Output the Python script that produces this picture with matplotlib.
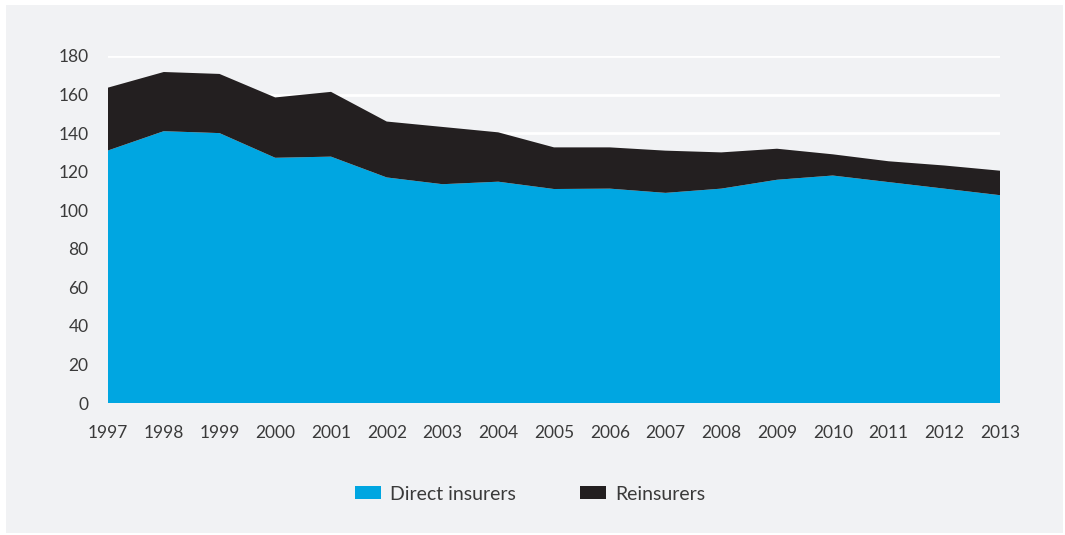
import matplotlib.pyplot as plt
from matplotlib.patches import Rectangle

years = list(range(1997, 2014))
direct = [131.0, 141.0, 140.0, 127.2, 127.8, 117.0, 113.5, 114.8, 111.0, 111.2,
          109.0, 111.2, 115.8, 118.0, 114.6, 111.2, 107.8]
total = [163.6, 171.7, 170.7, 158.5, 161.4, 146.0, 143.2, 140.4, 132.6, 132.6,
         130.9, 130.0, 131.9, 129.0, 125.4, 123.2, 120.5]
reins = [t - d for t, d in zip(total, direct)]

blue = '#00a6e1'
dark = '#231f20'
bg = '#f1f2f4'
txt = '#3a3a3a'

plt.rcParams['font.family'] = ['Lato', 'DejaVu Sans']

fig = plt.figure(figsize=(10.65, 5.35), dpi=100, facecolor='white')
fig.add_artist(Rectangle((6 / 1065, 2 / 535), 1057 / 1065, 528 / 535,
                         transform=fig.transFigure, facecolor=bg,
                         edgecolor='none', zorder=-5))

ax = fig.add_axes([108 / 1065, (535 - 403) / 535, 892 / 1065, 347 / 535])
ax.set_facecolor(bg)
ax.stackplot(years, direct, reins, colors=[blue, dark],
             labels=['Direct insurers', 'Reinsurers'], zorder=2)

ax.set_xlim(1997, 2013)
ax.set_ylim(0, 180)
ax.set_yticks(range(0, 181, 20))
ax.set_xticks(years)
ax.grid(axis='y', color='white', linewidth=2, zorder=1)
ax.set_axisbelow(True)
for s in ax.spines.values():
    s.set_visible(False)
ax.tick_params(length=0, labelsize=12.5, colors=txt)
ax.tick_params(axis='x', pad=16)
ax.tick_params(axis='y', pad=14)

ax.legend(loc='center', bbox_to_anchor=(530 / 1065, 1 - 494 / 535),
          bbox_transform=fig.transFigure, ncol=2, frameon=False,
          fontsize=14, labelcolor=txt, handlelength=1.34, handleheight=0.62,
          handletextpad=0.46, columnspacing=3.3)

fig.savefig('out.png', dpi=100, facecolor=fig.get_facecolor())
